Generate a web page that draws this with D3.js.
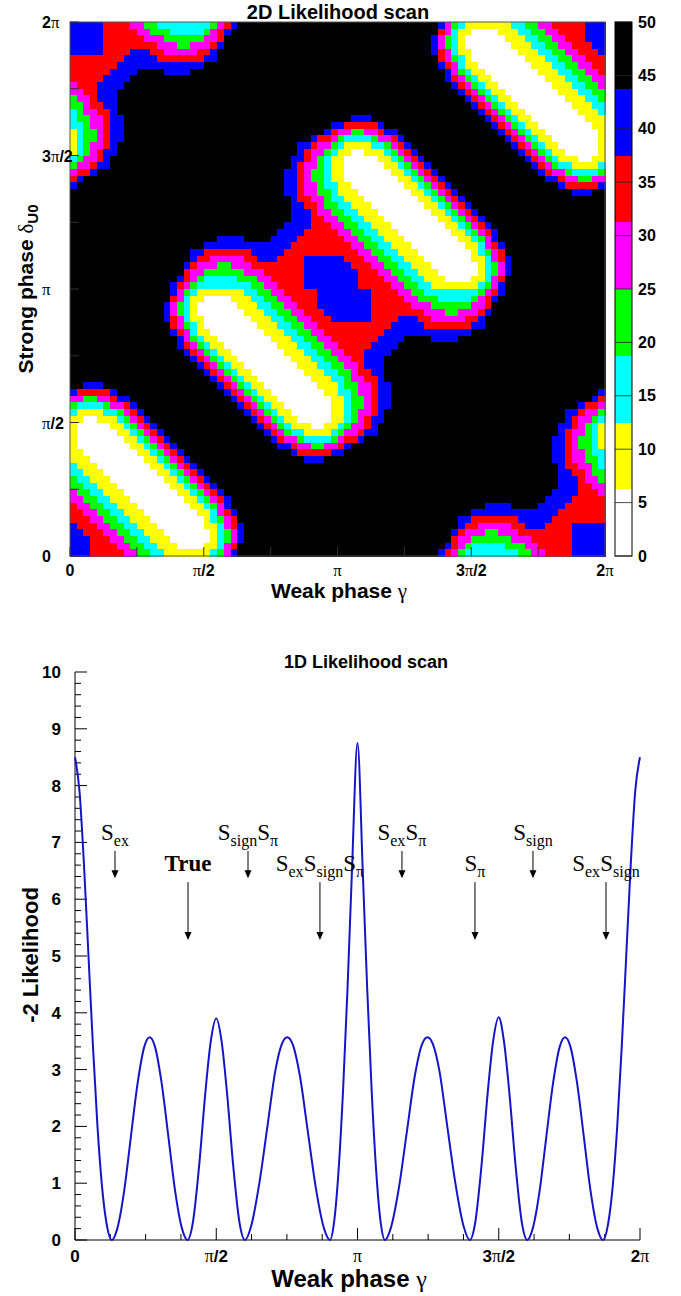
<!DOCTYPE html>
<html><head><meta charset="utf-8">
<script src="https://cdn.jsdelivr.net/npm/d3@7"></script>
<style>body{margin:0;background:#fff}svg{display:block}</style>
</head><body><svg id="c" width="681" height="1296"></svg>
<script>
// ---------- DATA ----------
// 2D scan: -2lnL level per cell, run-length coded, rows from delta=2pi (top) to 0 (bottom), 80 cells per row
// W <6.25, Y <12.5, C <18.75, G <25, M <31.25, R <37.5, B <43.75, K >=43.75
const heatRows = [
"B5 R4 M2 G2 C8 G1 M1 R1 B1 K30 B1 M1 G1 C1 Y7 C2 G2 M2 R5 B3",
"B5 R5 M2 G3 C5 G1 M1 R1 B1 K31 R1 M1 C1 Y2 W4 Y3 C2 G2 M2 R4 B3",
"B5 R6 M3 G6 M2 R1 K31 B1 M1 G1 C1 Y1 W6 Y3 C2 G2 M2 R3 B3",
"B5 R8 M3 G2 M3 R1 B1 K31 B1 M1 G1 C1 Y1 W7 Y3 C2 G2 M2 R3 B2",
"B5 R4 B3 R2 M5 R2 B1 K32 B1 R1 M1 C1 Y2 W7 Y3 C2 G2 M2 R3 B1",
"R8 B5 R7 B2 K33 R1 M1 G1 C1 Y1 W8 Y3 C2 G2 M2 R3",
"R7 B13 K35 B1 R1 M1 C1 Y2 W8 Y3 C2 G2 M2 R2",
"R6 B4 K4 B4 K38 B1 M1 G1 C1 Y2 W8 Y3 C2 G2 M2 R1",
"R5 B4 K47 B1 R1 M1 G1 C1 Y2 W8 Y3 C2 G2 M2",
"M1 R3 B4 K49 B1 R1 M1 G1 C1 Y2 W8 Y3 C2 G2 M1",
"M2 R2 B3 K51 B1 R1 M1 G1 C1 Y2 W8 Y3 C2 G2",
"G1 M2 R1 B3 K52 B1 R1 M1 G1 C1 Y2 W8 Y3 C2 G1",
"G2 M1 R2 B2 K53 B1 R1 M1 G1 C1 Y2 W8 Y3 C2",
"C1 G1 M2 R2 B1 K54 B1 R1 M1 G1 C1 Y2 W8 Y3 C1",
"C1 G2 M2 R1 B2 K34 B3 K17 B1 R1 M1 G1 C1 Y2 W8 Y3",
"C2 G1 M2 R1 B2 K31 B2 R5 B1 K16 B1 R1 M1 G1 C1 Y2 W8 Y2",
"Y1 C1 G2 M1 R1 B2 K30 B1 R1 M2 G2 M2 R1 B2 K15 B1 R1 M1 G1 C1 Y2 W8 Y1",
"Y1 C1 G2 M1 R1 B2 K28 B1 R2 M1 G1 C4 G1 M2 R1 B1 K15 B1 R1 M1 G1 C1 Y2 W7 Y1",
"Y1 C1 G1 M2 R1 B1 K27 B2 R1 M2 G1 C1 Y4 C2 G1 M1 R1 B1 K15 B1 R1 M1 G1 C1 Y2 W6 Y1",
"Y1 C1 G1 M1 R1 B2 K27 B1 R1 M2 G1 C1 Y2 W2 Y3 C1 G1 M1 R1 B1 K15 B1 R1 M1 G1 C1 Y2 W5 Y1",
"C1 G1 M2 R1 B1 K27 B2 R1 M1 G1 C1 Y2 W5 Y2 C1 G1 M1 R1 B1 K15 B1 R1 M1 G1 C1 Y3 W2 Y2",
"G1 M2 R1 B2 K27 B1 R1 M2 G1 C1 Y2 W6 Y2 C1 G1 M1 R1 B1 K15 B1 R1 M1 G1 C2 Y4 C1",
"M1 R2 B1 K28 B2 R1 M1 G2 C1 Y2 W7 Y2 C1 G1 M1 R1 B1 K15 B1 R1 M2 G1 C4 G1",
"R1 B1 K30 B2 R1 M1 G2 C1 Y2 W8 Y2 C1 G1 M1 R1 B1 K15 B2 R1 M2 G2 M2",
"B1 K31 B2 R1 M2 G1 C2 Y2 W8 Y2 C1 G1 M1 R1 B1 K16 B1 R5 B1",
"K32 B2 R1 M2 G2 C1 Y3 W8 Y2 C1 G1 M1 R1 B1 K17 B3 K2",
"K33 B1 R2 M2 G1 C2 Y3 W8 Y2 C1 G1 M1 R1 B1 K21",
"K33 B2 R2 M1 G2 C2 Y3 W8 Y2 C1 G1 M1 R1 B1 K20",
"K33 B3 R1 M2 G2 C2 Y3 W8 Y2 C1 G1 M1 R1 B1 K19",
"K33 B3 R2 M2 G2 C2 Y3 W8 Y2 C1 G1 M1 R1 B1 K18",
"K32 B4 R3 M2 G2 C2 Y3 W8 Y2 C1 G1 M1 R1 B1 K17",
"K31 B4 R5 M2 G2 C2 Y3 W8 Y2 C1 G1 M1 R1 B1 K16",
"K22 B4 K4 B4 R7 M2 G2 C2 Y3 W8 Y2 C1 G1 M1 B1 K16",
"K20 B13 R9 M2 G2 C2 Y3 W8 Y2 C1 M1 R1 B1 K15",
"K18 B2 R7 B5 R11 M2 G2 C2 Y3 W8 Y1 C1 G1 M1 R1 K15",
"K18 B1 R2 M5 R2 B3 R4 B6 R3 M2 G2 C2 Y3 W7 Y2 C1 M1 R1 B1 K14",
"K17 B1 R1 M3 G2 M3 R8 B7 R3 M2 G2 C2 Y3 W7 Y1 C1 G1 M1 B1 K14",
"K17 R1 M2 G6 M3 R6 B8 R3 M2 G2 C2 Y3 W6 Y1 C1 G1 M1 B1 K14",
"K16 B1 R1 M1 G1 C5 G3 M2 R5 B8 R4 M2 G2 C2 Y3 W4 Y2 C1 M1 R1 K15",
"K15 B1 R1 M1 G1 C8 G2 M2 R4 B8 R5 M2 G2 C2 Y7 C1 G1 M1 B1 K15",
"K15 B1 M1 G1 C1 Y7 C2 G2 M2 R5 B8 R4 M2 G2 C8 G1 M1 R1 B1 K15",
"K15 R1 M1 C1 Y2 W4 Y3 C2 G2 M2 R4 B8 R5 M2 G3 C5 G1 M1 R1 B1 K16",
"K14 B1 M1 G1 C1 Y1 W6 Y3 C2 G2 M2 R3 B8 R6 M3 G6 M2 R1 K17",
"K14 B1 M1 G1 C1 Y1 W7 Y3 C2 G2 M2 R3 B7 R8 M3 G2 M3 R1 B1 K17",
"K14 B1 R1 M1 C1 Y2 W7 Y3 C2 G2 M2 R3 B6 R4 B3 R2 M5 R2 B1 K18",
"K15 R1 M1 G1 C1 Y1 W8 Y3 C2 G2 M2 R11 B5 R7 B2 K18",
"K15 B1 R1 M1 C1 Y2 W8 Y3 C2 G2 M2 R9 B13 K20",
"K16 B1 M1 G1 C1 Y2 W8 Y3 C2 G2 M2 R7 B4 K4 B4 K22",
"K16 B1 R1 M1 G1 C1 Y2 W8 Y3 C2 G2 M2 R5 B4 K31",
"K17 B1 R1 M1 G1 C1 Y2 W8 Y3 C2 G2 M2 R3 B4 K32",
"K18 B1 R1 M1 G1 C1 Y2 W8 Y3 C2 G2 M2 R2 B3 K33",
"K19 B1 R1 M1 G1 C1 Y2 W8 Y3 C2 G2 M2 R1 B3 K33",
"K20 B1 R1 M1 G1 C1 Y2 W8 Y3 C2 G2 M1 R2 B2 K33",
"K21 B1 R1 M1 G1 C1 Y2 W8 Y3 C2 G1 M2 R2 B1 K33",
"K2 B3 K17 B1 R1 M1 G1 C1 Y2 W8 Y3 C1 G2 M2 R1 B2 K32",
"B1 R5 B1 K16 B1 R1 M1 G1 C1 Y2 W8 Y2 C2 G1 M2 R1 B2 K31 B1",
"M2 G2 M2 R1 B2 K15 B1 R1 M1 G1 C1 Y2 W8 Y2 C1 G2 M1 R1 B2 K30 B1 R1",
"G1 C4 G1 M2 R1 B1 K15 B1 R1 M1 G1 C1 Y2 W7 Y2 C1 G2 M1 R1 B2 K28 B1 R2 M1",
"C1 Y4 C2 G1 M1 R1 B1 K15 B1 R1 M1 G1 C1 Y2 W6 Y2 C1 G1 M2 R1 B1 K27 B2 R1 M2 G1",
"Y2 W2 Y3 C1 G1 M1 R1 B1 K15 B1 R1 M1 G1 C1 Y2 W5 Y2 C1 G1 M1 R1 B2 K27 B1 R1 M2 G1 C1",
"Y1 W5 Y2 C1 G1 M1 R1 B1 K15 B1 R1 M1 G1 C1 Y3 W2 Y2 C1 G1 M2 R1 B1 K27 B2 R1 M1 G1 C1 Y1",
"Y1 W6 Y2 C1 G1 M1 R1 B1 K15 B1 R1 M1 G1 C2 Y4 C1 G1 M2 R1 B2 K27 B1 R1 M2 G1 C1 Y1",
"Y1 W7 Y2 C1 G1 M1 R1 B1 K15 B1 R1 M2 G1 C4 G1 M1 R2 B1 K28 B2 R1 M1 G2 C1 Y1",
"Y1 W8 Y2 C1 G1 M1 R1 B1 K15 B2 R1 M2 G2 M2 R1 B1 K30 B2 R1 M1 G2 C1 Y1",
"Y2 W8 Y2 C1 G1 M1 R1 B1 K16 B1 R5 B2 K31 B2 R1 M2 G1 C2",
"Y3 W8 Y2 C1 G1 M1 R1 B1 K17 B3 K34 B2 R1 M2 G2 C1",
"C1 Y3 W8 Y2 C1 G1 M1 R1 B1 K54 B1 R2 M2 G1 C1",
"C2 Y3 W8 Y2 C1 G1 M1 R1 B1 K53 B2 R2 M1 G2",
"G1 C2 Y3 W8 Y2 C1 G1 M1 R1 B1 K52 B3 R1 M2 G1",
"G2 C2 Y3 W8 Y2 C1 G1 M1 R1 B1 K51 B3 R2 M2",
"M1 G2 C2 Y3 W8 Y2 C1 G1 M1 R1 B1 K49 B4 R3 M1",
"M2 G2 C2 Y3 W8 Y2 C1 G1 M1 R1 B1 K47 B4 R5",
"R1 M2 G2 C2 Y3 W8 Y2 C1 G1 M1 B1 K38 B4 K4 B4 R6",
"R2 M2 G2 C2 Y3 W8 Y2 C1 M1 R1 B1 K35 B13 R7",
"R3 M2 G2 C2 Y3 W8 Y1 C1 G1 M1 R1 K33 B2 R7 B5 R8",
"B1 R3 M2 G2 C2 Y3 W7 Y2 C1 M1 R1 B1 K32 B1 R2 M5 R2 B3 R4 B5",
"B2 R3 M2 G2 C2 Y3 W7 Y1 C1 G1 M1 B1 K31 B1 R1 M3 G2 M3 R8 B5",
"B3 R3 M2 G2 C2 Y3 W6 Y1 C1 G1 M1 B1 K31 R1 M2 G6 M3 R6 B5",
"B3 R4 M2 G2 C2 Y3 W4 Y2 C1 M1 R1 K31 B1 R1 M1 G1 C5 G3 M2 R5 B5",
"B3 R5 M2 G2 C2 Y7 C1 G1 M1 B1 K30 B1 R1 M1 G1 C8 G2 M2 R4 B5"
];
const levelCodes  = ["W","Y","C","G","M","R","B","K"];
const levelColors = ["#ffffff","#ffff00","#00ffff","#00ff00","#ff00ff","#ff0000","#0000ff","#000000"];
const zRange = [0, 50];
const zTicks = [0,5,10,15,20,25,30,35,40,45,50];

const phaseTicks  = [0, Math.PI/2, Math.PI, 3*Math.PI/2, 2*Math.PI];
const phaseLabels = ["0","π/2","π","3π/2","2π"];
const minorPhaseTicks = [Math.PI/4, 3*Math.PI/4, 5*Math.PI/4, 7*Math.PI/4];

// 1D scan: weak phase gamma (rad) and -2 ln L
const scanGamma = [0.00,0.05,0.10,0.15,0.20,0.25,0.30,0.35,0.41,0.47,0.55,0.62,0.70,0.77,0.83,0.89,0.96,1.04,1.11,1.19,1.25,
  1.31,1.38,1.45,1.51,1.571,1.63,1.69,1.76,1.83,1.89,1.96,2.05,2.14,2.23,2.30,2.36,2.42,2.50,2.59,2.68,2.77,2.836,
  2.88,2.93,2.98,3.03,3.08,3.1416,3.20,3.25,3.30,3.35,3.40,3.447,
  3.51,3.60,3.69,3.78,3.86,3.92,3.98,4.05,4.14,4.23,4.32,4.39,
  4.45,4.52,4.59,4.65,4.712,4.77,4.83,4.90,4.97,5.03,
  5.09,5.17,5.24,5.32,5.39,5.45,5.51,5.58,5.66,5.73,5.81,5.87,
  5.93,5.98,6.03,6.08,6.13,6.18,6.23,6.283];
const scanValue = [8.5,7.9,6.6,5.0,3.4,2.0,0.95,0.3,0.0,0.2,0.9,1.8,2.8,3.4,3.57,3.4,2.8,1.8,0.9,0.2,0.0,
  0.3,1.3,2.6,3.5,3.9,3.5,2.6,1.3,0.3,0.0,0.25,1.0,2.0,3.0,3.45,3.57,3.45,2.9,1.9,0.9,0.2,0.0,
  0.3,1.2,2.6,4.4,6.5,8.75,6.5,4.4,2.6,1.2,0.3,0.0,
  0.2,0.9,1.9,2.9,3.45,3.57,3.45,3.0,2.0,1.0,0.25,0.0,
  0.3,1.3,2.6,3.5,3.92,3.5,2.6,1.3,0.3,0.0,
  0.2,0.9,1.8,2.8,3.4,3.57,3.4,2.8,1.8,0.9,0.2,0.0,
  0.3,0.95,2.0,3.4,5.0,6.6,7.9,8.5];

// hypothesis labels: text (with _{} subscripts), gamma the arrow points at, label row
const hypLabels = ["S_{ex}","True","S_{sign}S_{π}","S_{ex}S_{sign}S_{π}","S_{ex}S_{π}","S_{π}","S_{sign}","S_{ex}S_{sign}"];
const hypGamma  = [0.445, 1.257, 1.924, 2.724, 3.636, 4.448, 5.093, 5.905];
const hypRow    = [0,1,0,1,0,1,0,1];

// ---------- DRAW ----------
const svg = d3.select("#c");
const SANS = "'Liberation Sans', Arial, Helvetica, sans-serif";
const SERIF = "'Liberation Serif', 'Times New Roman', serif";

function phaseText(sel, lab){
  const i = lab.indexOf("π");
  if (i < 0) { sel.append("tspan").attr("font-family",SANS).attr("font-weight","bold").text(lab); return; }
  if (i > 0) sel.append("tspan").attr("font-family",SANS).attr("font-weight","bold").text(lab.slice(0,i));
  sel.append("tspan").attr("font-family",SERIF).attr("font-weight","normal").attr("font-size","1.05em").text("π");
  if (i < lab.length-1) sel.append("tspan").attr("font-family",SANS).attr("font-weight","bold").text(lab.slice(i+1));
}

// ===== 2D panel =====
const P2 = {l:70, r:605, t:22, b:556};
const xH = d3.scaleLinear().domain([0, 2*Math.PI]).range([P2.l, P2.r]);
const yH = d3.scaleLinear().domain([0, 2*Math.PI]).range([P2.b, P2.t]);
const colorOf = d3.scaleOrdinal().domain(levelCodes).range(levelColors);

const nRows = heatRows.length;
const gHeat = svg.append("g").attr("shape-rendering","crispEdges");
heatRows.forEach((row, i) => {
  const runs = row.split(" ").map(t => ({lev:t[0], n:+t.slice(1)}));
  const nCols = d3.sum(runs, d => d.n);
  const dx = 2*Math.PI/nCols, dy = 2*Math.PI/nRows;
  const dTop = 2*Math.PI - i*dy;
  let c = 0;
  runs.forEach(run => {
    const x0 = xH(c*dx), x1 = xH((c+run.n)*dx);
    gHeat.append("rect")
      .attr("x", x0).attr("y", yH(dTop))
      .attr("width", x1 - x0 + 0.5).attr("height", yH(dTop-dy) - yH(dTop) + 0.5)
      .attr("fill", colorOf(run.lev));
    c += run.n;
  });
});
svg.append("rect").attr("x",P2.l).attr("y",P2.t).attr("width",P2.r-P2.l).attr("height",P2.b-P2.t)
  .attr("fill","none").attr("stroke","#555").attr("stroke-width",1);
const gT = svg.append("g").attr("stroke","#333").attr("stroke-width",1);
phaseTicks.concat(minorPhaseTicks).forEach(v => {
  gT.append("line").attr("x1",xH(v)).attr("x2",xH(v)).attr("y1",P2.b).attr("y2",P2.b-9);
  gT.append("line").attr("x1",P2.l).attr("x2",P2.l+9).attr("y1",yH(v)).attr("y2",yH(v));
});
phaseTicks.forEach((v,i) => {
  phaseText(svg.append("text").attr("x",xH(v)).attr("y",P2.b+20).attr("text-anchor","middle")
    .attr("font-size",16).attr("fill","#000"), phaseLabels[i]);
  phaseText(svg.append("text").attr("x",42).attr("y",yH(v)+6).attr("text-anchor","start")
    .attr("font-size",16).attr("fill","#000"), phaseLabels[i]);
});
svg.append("text").attr("x",338).attr("y",19).attr("text-anchor","middle").attr("font-family",SANS)
  .attr("font-weight","bold").attr("font-size",20).text("2D Likelihood scan");
const xt2 = svg.append("text").attr("x",339).attr("y",598).attr("text-anchor","middle").attr("font-size",21);
xt2.append("tspan").attr("font-family",SANS).attr("font-weight","bold").text("Weak phase ");
xt2.append("tspan").attr("font-family",SERIF).text("γ");
const yt2 = svg.append("text").attr("transform","translate(33,289) rotate(-90)").attr("text-anchor","middle").attr("font-size",21);
yt2.append("tspan").attr("font-family",SANS).attr("font-weight","bold").text("Strong phase ");
yt2.append("tspan").attr("font-family",SERIF).text("δ");
yt2.append("tspan").attr("font-family",SANS).attr("font-weight","bold").attr("font-size",15).attr("dy",5).text("U0");

// colour bar
const zS = d3.scaleLinear().domain(zRange).range([P2.b, P2.t]);
const cb = {x:615, w:17};
const bandW = (zRange[1]-zRange[0])/levelCodes.length;
levelCodes.forEach((code,k) => {
  svg.append("rect").attr("x",cb.x).attr("y",zS((k+1)*bandW)).attr("width",cb.w)
    .attr("height",zS(k*bandW)-zS((k+1)*bandW)).attr("fill",colorOf(code)).attr("shape-rendering","crispEdges");
});
svg.append("rect").attr("x",cb.x).attr("y",P2.t).attr("width",cb.w).attr("height",P2.b-P2.t)
  .attr("fill","none").attr("stroke","#000").attr("stroke-width",1);
zTicks.forEach(v => {
  svg.append("line").attr("x1",cb.x).attr("x2",cb.x+cb.w).attr("y1",zS(v)).attr("y2",zS(v))
    .attr("stroke","#222").attr("stroke-width",0.8);
  svg.append("text").attr("x",cb.x+cb.w+6).attr("y",zS(v)+5.5).attr("font-family",SANS).attr("font-weight","bold")
    .attr("font-size",16).text(v);
});

// ===== 1D panel =====
const P1 = {l:75, r:640, t:672, b:1240};
const x1 = d3.scaleLinear().domain([0, 2*Math.PI]).range([P1.l, P1.r]);
const y1 = d3.scaleLinear().domain([0, 10]).range([P1.b, P1.t]);
svg.append("line").attr("x1",P1.l).attr("x2",P1.l).attr("y1",P1.t).attr("y2",P1.b).attr("stroke","#000");
svg.append("line").attr("x1",P1.l).attr("x2",P1.r).attr("y1",P1.b).attr("y2",P1.b).attr("stroke","#000");
d3.range(0, 10.001, 0.2).forEach(v => {
  const major = Math.abs(v - Math.round(v)) < 1e-6;
  svg.append("line").attr("x1",P1.l).attr("x2",P1.l + (major?12:6)).attr("y1",y1(v)).attr("y2",y1(v)).attr("stroke","#000");
});
d3.range(0, 11).forEach(v => {
  svg.append("text").attr("x",P1.l-14).attr("y",y1(v)+6).attr("text-anchor","end").attr("font-family",SANS)
    .attr("font-weight","bold").attr("font-size",17).text(v);
});
phaseTicks.forEach((v,i) => {
  svg.append("line").attr("x1",x1(v)).attr("x2",x1(v)).attr("y1",P1.b).attr("y2",P1.b-12).attr("stroke","#000");
  phaseText(svg.append("text").attr("x",x1(v)).attr("y",P1.b+22).attr("text-anchor","middle").attr("font-size",17), phaseLabels[i]);
});
d3.range(1, 16).forEach(k => {
  const v = k*Math.PI/8;
  if (k % 4 !== 0) svg.append("line").attr("x1",x1(v)).attr("x2",x1(v)).attr("y1",P1.b).attr("y2",P1.b-6).attr("stroke","#000");
});
const pts = scanGamma.map((g,i) => [g, scanValue[i]]);
svg.append("path").datum(pts)
  .attr("d", d3.line().x(d => x1(d[0])).y(d => y1(d[1])).curve(d3.curveMonotoneX))
  .attr("fill","none").attr("stroke","#1515c8").attr("stroke-width",2);
svg.append("text").attr("x",366).attr("y",668).attr("text-anchor","middle").attr("font-family",SANS)
  .attr("font-weight","bold").attr("font-size",18).text("1D Likelihood scan");
const xt1 = svg.append("text").attr("x",349).attr("y",1287).attr("text-anchor","middle").attr("font-size",24);
xt1.append("tspan").attr("font-family",SANS).attr("font-weight","bold").text("Weak phase ");
xt1.append("tspan").attr("font-family",SERIF).text("γ");
svg.append("text").attr("transform","translate(38,955) rotate(-90)").attr("text-anchor","middle")
  .attr("font-family",SANS).attr("font-weight","bold").attr("font-size",22).text("-2 Likelihood");

const rowText = [7.05, 6.5], rowArrowTop = [6.85, 6.3], rowArrowTip = [6.37, 5.28];
hypLabels.forEach((lab, i) => {
  const r = hypRow[i];
  const t = svg.append("text").attr("x", x1(hypGamma[i])).attr("y", y1(rowText[r]))
    .attr("text-anchor","middle").attr("font-family",SERIF).attr("font-size",23);
  if (lab === "True") { t.attr("font-weight","bold").text(lab); }
  else {
    lab.replace(/S_\{([^}]*)\}/g, (all, sub) => {
      t.append("tspan").attr("dy", 0).text("S");
      t.append("tspan").attr("font-size",16).attr("dy",6).text(sub);
      t.append("tspan").attr("font-size",1).attr("dy",-6).text("\u200a");
      return all;
    });
  }
  const xa = x1(hypGamma[i]);
  svg.append("line").attr("x1",xa).attr("x2",xa).attr("y1",y1(rowArrowTop[r])).attr("y2",y1(rowArrowTip[r])-6)
    .attr("stroke","#000").attr("stroke-width",1);
  svg.append("path").attr("d",`M${xa-3.5},${y1(rowArrowTip[r])-8} L${xa+3.5},${y1(rowArrowTip[r])-8} L${xa},${y1(rowArrowTip[r])} Z`)
    .attr("fill","#000");
});
</script></body></html>
